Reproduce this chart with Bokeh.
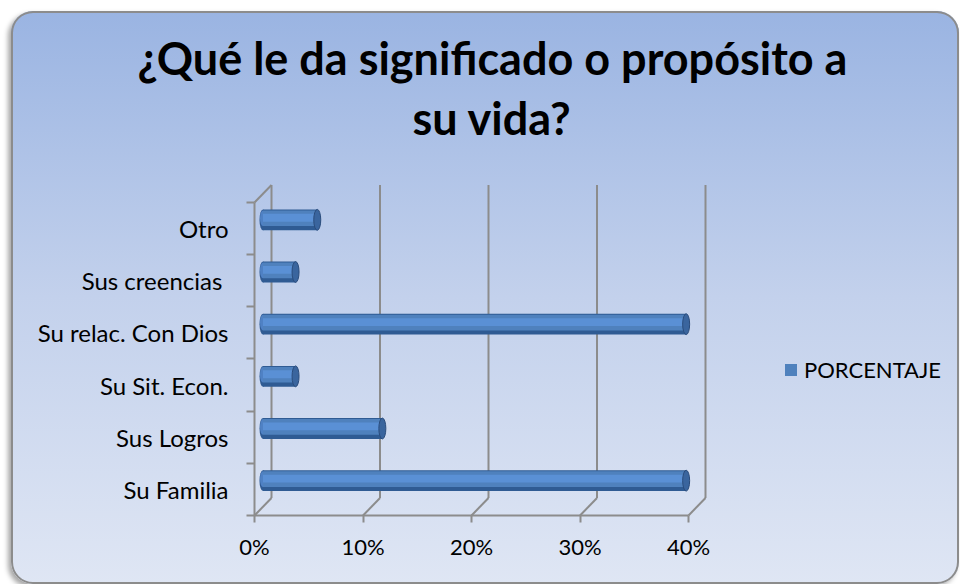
import numpy as np
from bokeh.plotting import figure
from bokeh.models import (Range1d, FixedTicker, NumeralTickFormatter, Title,
                          Legend, LegendItem)
from bokeh.embed import file_html
from bokeh.resources import INLINE

# ---------------- data ----------------
categories = ["Su Familia", "Sus Logros", "Su Sit. Econ.",
              "Su relac. Con Dios", "Sus creencias ", "Otro"]
porcentaje = [0.39, 0.11, 0.03, 0.39, 0.03, 0.05]
x_ticks = [0.0, 0.1, 0.2, 0.3, 0.4]
series_name = "PORCENTAJE"
title_line1 = "¿Qué le da significado o propósito a"
title_line2 = "su vida?"

# ---------------- layout constants (pixels) ----------------
W, H = 948, 573
BL, BR, BT, BB = 240, 4, 136, 66
PX_X = 1085.0      # pixels per unit (x)
PX_Y = 52.17       # pixels per category (y)
x_start = -3 / PX_X
x_end = x_start + (W - BL - BR) / PX_X
y_start = -3 / PX_Y
y_end = y_start + (H - BT - BB) / PX_Y
DX = 17 / PX_X     # 3-D depth offset
DY = 17.5 / PX_Y

FONT = "Lato"
GRAY = "#8c8c8c"

p = figure(width=W, height=H, output_backend="svg", toolbar_location=None,
           x_range=Range1d(x_start, x_end), y_range=Range1d(y_start, y_end),
           min_border_left=BL, min_border_right=BR, min_border_top=BT,
           min_border_bottom=BB, title=None)
p.border_fill_color = None
p.background_fill_color = None
p.outline_line_color = None
p.xgrid.visible = False
p.ygrid.visible = False
p.styles = {
    "margin-left": "11px",
    "margin-top": "11px",
    "background": "linear-gradient(to bottom, #9ab4e2 0%, #c3d1ec 50%, #dfe6f4 100%)",
    "border-radius": "22px",
    "box-shadow": "inset 0 0 0 2px #8c8c8c, -3px 3px 5px rgba(0,0,0,0.35)",
}

n = len(categories)
ypos = np.arange(n) + 0.5
vals = np.array(porcentaje)
xt = np.array(x_ticks)

# ---------------- 3-D walls / gridlines ----------------
p.segment(x0=xt + DX, y0=np.full(len(xt), DY), x1=xt + DX, y1=np.full(len(xt), n + DY),
          line_color=GRAY, line_width=2)
p.segment(x0=xt, y0=np.zeros(len(xt)), x1=xt + DX, y1=np.full(len(xt), DY),
          line_color=GRAY, line_width=2)
p.segment(x0=[0, 0, 0], y0=[0, 0, n], x1=[xt[-1], 0, DX], y1=[0, n, n + DY],
          line_color=GRAY, line_width=2)

# ---------------- cylinder bars ----------------
bar_y = ypos + DY / 2
bar_left = np.full(n, DX / 2)
bar_right = vals + DX / 2
BH = 0.40

p.ellipse(x=bar_left, y=bar_y, width=7, width_units="screen", height=BH,
          fill_color="#2f5b93", line_color=None)
p.ellipse(x=bar_left, y=bar_y + 0.03, width=6, width_units="screen", height=0.30,
          fill_color="#4f81c4", line_color=None)
p.hbar(y=bar_y, left=bar_left, right=bar_right, height=BH,
       fill_color="#2f5b93", line_color=None)
band = p.hbar(y=bar_y + 0.03, left=bar_left, right=bar_right, height=0.30,
              fill_color="#4f81bd", line_color=None)
p.hbar(y=bar_y + 0.04, left=bar_left, right=bar_right, height=0.15,
       fill_color="#5a90d5", line_color=None)
p.ellipse(x=bar_right, y=bar_y, width=7, width_units="screen", height=BH,
          fill_color="#3a659e", line_color="#2a4c7c", line_width=1)

# ---------------- axes ----------------
xa = p.xaxis[0]
xa.ticker = FixedTicker(ticks=x_ticks, minor_ticks=[])
xa.formatter = NumeralTickFormatter(format="0%")
xa.axis_line_color = None
xa.major_tick_line_color = GRAY
xa.major_tick_line_width = 2
xa.major_tick_out = 4
xa.major_tick_in = 3
xa.major_label_text_font = FONT
xa.major_label_text_font_size = "22px"
xa.major_label_text_color = "black"
xa.major_label_standoff = 10

ya = p.yaxis[0]
ya.ticker = FixedTicker(ticks=list(ypos), minor_ticks=list(range(n + 1)))
ya.major_label_overrides = {float(v): c for v, c in zip(ypos, categories)}
ya.axis_line_color = None
ya.major_tick_line_color = None
ya.major_tick_out = 0
ya.major_tick_in = 0
ya.minor_tick_line_color = GRAY
ya.minor_tick_line_width = 2
ya.minor_tick_out = 5
ya.minor_tick_in = 3
ya.major_label_text_font = FONT
ya.major_label_text_font_size = "24px"
ya.major_label_text_color = "black"
ya.major_label_standoff = 18

# ---------------- title (two lines, stacked outward from the frame) ----------------
p.add_layout(Title(text=title_line2, align="left", offset=161, standoff=5,
                   text_font=FONT, text_font_style="bold", text_font_size="45px",
                   text_color="black"), "above")
p.add_layout(Title(text=title_line1, align="left", offset=-114, standoff=4,
                   text_font=FONT, text_font_style="bold", text_font_size="45px",
                   text_color="black"), "above")

# ---------------- legend ----------------
legend = Legend(items=[LegendItem(label=series_name, renderers=[band])],
                location=(532, 135), orientation="vertical",
                background_fill_color=None, border_line_color=None,
                padding=0, margin=0, glyph_width=15, glyph_height=15,
                label_standoff=6, label_text_font=FONT,
                label_text_font_size="22px", label_text_color="black")
p.add_layout(legend, "center")

open("out.html", "w").write(file_html(p, INLINE))
